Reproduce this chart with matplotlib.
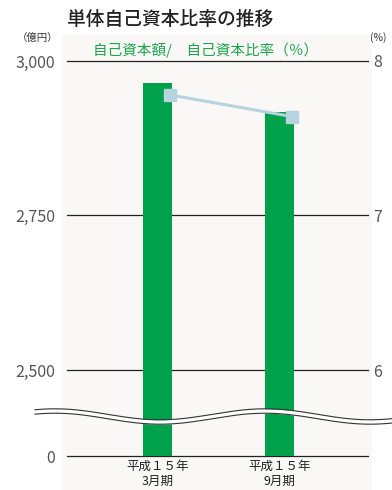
import numpy as np
import matplotlib
matplotlib.use('Agg')
import matplotlib.pyplot as plt
from matplotlib.patches import Rectangle

plt.rcParams['font.family'] = ['Noto Sans CJK JP', 'DejaVu Sans']

# データ
periods = ['平成１５年\n3月期', '平成１５年\n9月期']
capital = [2964, 2917]          # 自己資本額（億円）
ratio = [7.78, 7.64]            # 自己資本比率（％）
left_ticks = [0, 2500, 2750, 3000]
left_labels = ['0', '2,500', '2,750', '3,000']
right_ticks = [6, 7, 8]
right_labels = ['6', '7', '8']

W, H = 392, 490
fig = plt.figure(figsize=(W / 100, H / 100), dpi=100)
fig.patch.set_facecolor('white')

# 背景パネル
fig.add_artist(Rectangle((62 / W, 0), (372 - 62) / W, (490 - 35) / H,
                         transform=fig.transFigure, facecolor='#faf8f6',
                         edgecolor='none', zorder=0))

# 0〜2500 の間を圧縮する目盛り（省略線）
G = 139.2
def fwd(v):
    v = np.asarray(v, dtype=float)
    return np.where(v >= 2500, v, 2500 - G + v * G / 2500)
def inv(u):
    u = np.asarray(u, dtype=float)
    return np.where(u >= 2500, u, (u - 2500 + G) * 2500 / G)

ax = fig.add_axes([67 / W, 1 - 456 / H, (368 - 67) / W, (456 - 61) / H])
ax.set_yscale('function', functions=(fwd, inv))
ax.set_ylim(0, 3000)
ax.patch.set_visible(False)
x = np.arange(len(periods))
ax.set_xlim(-0.742, 1.725)

for v in left_ticks:
    ax.axhline(v, color='#222222', lw=0.9, zorder=1, clip_on=False)
ax.bar(x, capital, width=0.238, color='#00a14b', zorder=2)

ax.set_yticks(left_ticks)
ax.set_yticklabels(left_labels)
ax.yaxis.set_minor_locator(plt.NullLocator())
ax.tick_params(axis='y', length=0, pad=8.5, labelsize=11.5, labelcolor='#555555')
ax.set_xticks(x)
ax.set_xticklabels(periods, fontsize=9, color='#222222', linespacing=1.2)
ax.tick_params(axis='x', length=0, pad=2.5)
for s in ax.spines.values():
    s.set_visible(False)

ax2 = ax.twinx()
ax2.set_ylim(5.4434, 8)
ax2.plot(x + 0.105, ratio, color='#b5d3de', lw=2.2, marker='s', ms=8.5,
         markerfacecolor='#b7d3dd', markeredgecolor='#b7d3dd', zorder=3)
ax2.set_yticks(right_ticks)
ax2.set_yticklabels(right_labels)
ax2.tick_params(axis='y', length=0, pad=4, labelsize=11.5, labelcolor='#555555')
for s in ax2.spines.values():
    s.set_visible(False)

# 省略線（波線）
axw = fig.add_axes([0, 0, 1, 1], zorder=10)
axw.set_xlim(0, W)
axw.set_ylim(H, 0)
axw.axis('off')
xs = np.linspace(35, 392, 400)
yc = 416.5 - 5.5 * np.sin(2 * np.pi * (xs - 55) / 210 + np.pi / 2)
axw.fill_between(xs, yc - 2.2, yc + 2.2, color='white', lw=0)
axw.plot(xs, yc - 2.2, color='#333333', lw=0.8)
axw.plot(xs, yc + 2.2, color='#333333', lw=0.8)

# 文字
fig.text(67 / W, 1 - 19 / H, '単体自己資本比率の推移', fontsize=13.5,
         fontweight='medium', color='#222222', va='center', ha='left')
fig.text(38 / W, 1 - 38 / H, '（億円）', fontsize=7.5, color='#333333',
         va='center', ha='center')
fig.text(370 / W, 1 - 38 / H, '(%)', fontsize=7.5, color='#333333',
         va='center', ha='left')
fig.text(93 / W, 1 - 50 / H, '自己資本額/　自己資本比率（％）', fontsize=10.5,
         color='#1ea34f', va='center', ha='left')

fig.savefig('out.png', dpi=100)
